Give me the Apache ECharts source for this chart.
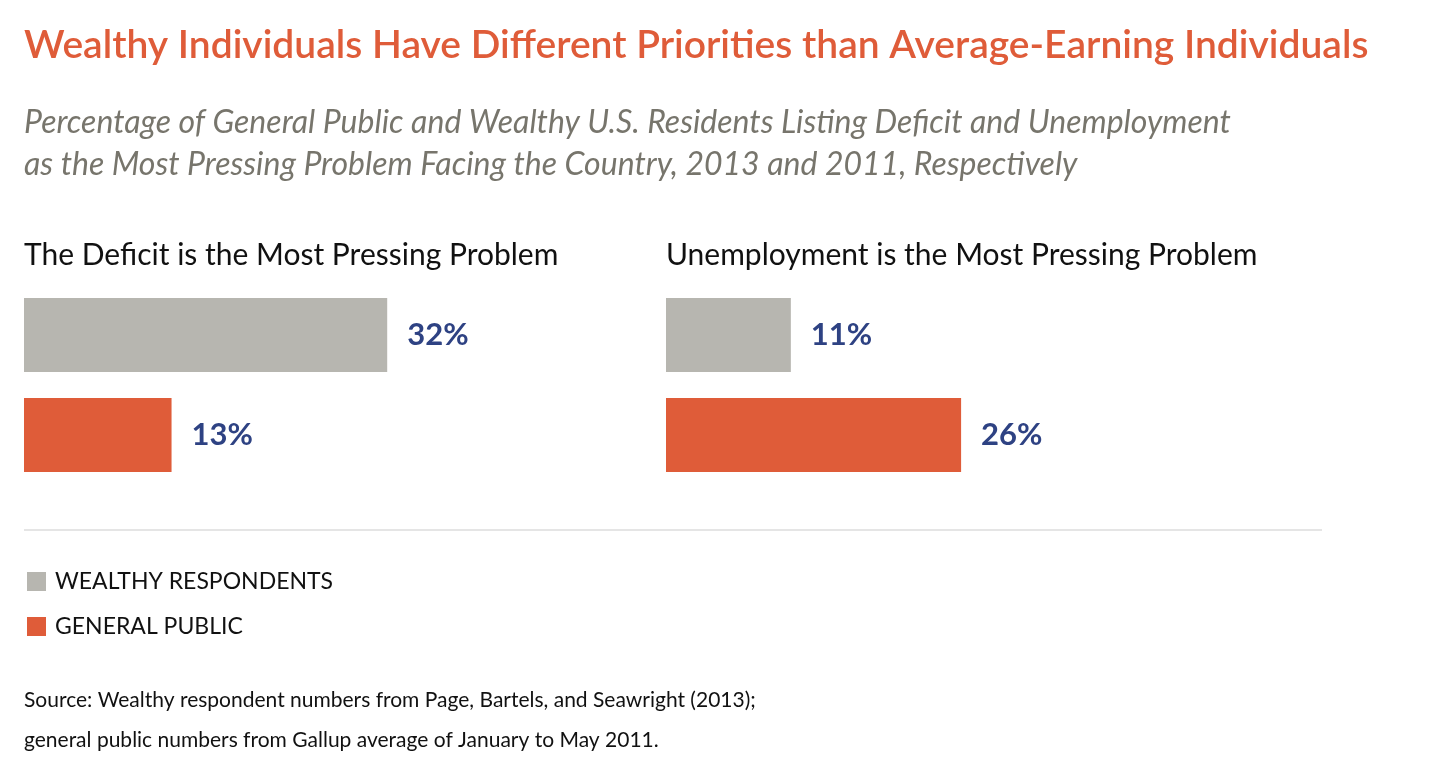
<!DOCTYPE html>
<html><head><meta charset="utf-8">
<script src="https://cdn.jsdelivr.net/npm/echarts@6/dist/echarts.min.js"></script>
<style>html,body{margin:0;background:#fff}#c{width:1444px;height:768px}</style></head>
<body><div id="c"></div>
<script>
const categories = ['Wealthy', 'General'];
const panelTitles = ['The Deficit is the Most Pressing Problem', 'Unemployment is the Most Pressing Problem'];
const wealthyValues = [32, 11];
const generalValues = [13, 26];
const legendNames = ['WEALTHY RESPONDENTS', 'GENERAL PUBLIC'];
const grey = '#b7b6b0', orange = '#df5c39', navy = '#2e4283';
const font = '"Lato","Open Sans",sans-serif';
const lefts = [24, 666];
const grid = lefts.map(l => ({left: l, top: 285, width: 681, height: 200}));
const xAxis = lefts.map((l, i) => ({gridIndex: i, type: 'value', min: 0, max: 60, show: false}));
const yAxis = lefts.map((l, i) => ({gridIndex: i, type: 'category', data: categories, inverse: true, show: false}));
const lbl = {show: true, position: 'right', distance: 20, color: navy, fontSize: 31, fontWeight: 'bold', fontFamily: font, formatter: '{c}%'};
const series = [];
[0, 1].forEach(i => {
  series.push({name: legendNames[0], type: 'bar', xAxisIndex: i, yAxisIndex: i, stack: 's' + i, barWidth: 74,
    itemStyle: {color: grey}, label: lbl, data: [wealthyValues[i], '-']});
  series.push({name: legendNames[1], type: 'bar', xAxisIndex: i, yAxisIndex: i, stack: 's' + i, barWidth: 74,
    itemStyle: {color: orange}, label: lbl, data: ['-', generalValues[i]]});
});
const chart = echarts.init(document.getElementById('c'));
chart.setOption({
  animation: false,
  grid, xAxis, yAxis, series,
  legend: {orient: 'vertical', left: 22, top: 565, itemWidth: 19, itemHeight: 19, itemGap: 22, icon: 'rect',
    selectedMode: false, data: legendNames,
    textStyle: {fontSize: 23, fontFamily: font, color: '#111', padding: [0, 0, 0, 4]}},
  graphic: [
    {type: 'text', left: 24, top: 26, style: {text: 'Wealthy Individuals Have Different Priorities than Average-Earning Individuals', font: '600 39px ' + font, fill: orange}},
    {type: 'text', left: 24, top: 102, style: {text: 'Percentage of General Public and Wealthy U.S. Residents Listing Deficit and Unemployment\nas the Most Pressing Problem Facing the Country, 2013 and 2011, Respectively', font: 'italic 32px ' + font, fill: '#77756c', lineHeight: 42}},
    {type: 'text', left: 24, top: 240, style: {text: panelTitles[0], font: '30px ' + font, fill: '#111'}},
    {type: 'text', left: 666, top: 240, style: {text: panelTitles[1], font: '30px ' + font, fill: '#111'}},
    {type: 'line', shape: {x1: 24, y1: 530, x2: 1322, y2: 530}, style: {stroke: '#dddddd', lineWidth: 1.5}},
    {type: 'text', left: 24, top: 680, style: {text: 'Source: Wealthy respondent numbers from Page, Bartels, and Seawright (2013);\ngeneral public numbers from Gallup average of January to May 2011.', font: '21px ' + font, fill: '#111', lineHeight: 40}}
  ]
});
</script></body></html>
